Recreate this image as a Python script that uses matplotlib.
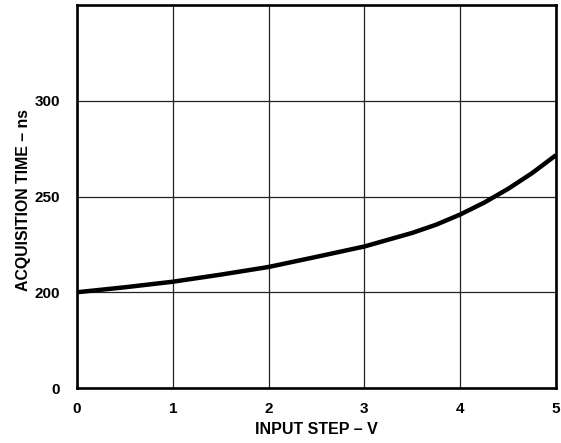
import matplotlib
matplotlib.use("Agg")
import matplotlib.pyplot as plt
import numpy as np

# Data
input_step = [0, 0.5, 1, 1.5, 2, 2.5, 3, 3.5, 3.75, 4, 4.25, 4.5, 4.75, 5]
acq_time = [200, 202.6, 205.5, 209.2, 213.2, 218.5, 223.9, 231.0, 235.3,
            240.6, 246.8, 254.0, 262.2, 271.6]
x_ticks = [0, 1, 2, 3, 4, 5]
y_ticks = [0, 200, 250, 300]

plt.rcParams['font.family'] = ['Liberation Sans', 'DejaVu Sans']
plt.rcParams['font.weight'] = 'bold'

# broken y scale: 0..200 occupies one grid row, then 50 per row
def fwd(v):
    v = np.asarray(v, dtype=float)
    return np.where(v >= 200, 1 + (v - 200) / 50.0, v / 200.0)

def inv(p):
    p = np.asarray(p, dtype=float)
    return np.where(p >= 1, 200 + (p - 1) * 50.0, p * 200.0)

fig = plt.figure(figsize=(5.61, 4.43), dpi=100)
ax = fig.add_axes([77/561, 1 - 388/443, (556 - 77)/561, (388 - 5)/443])
ax.set_yscale('function', functions=(fwd, inv))

ax.plot(input_step, acq_time, color='black', lw=3.2,
        solid_capstyle='butt', solid_joinstyle='round')

ax.set_xlim(0, 5)
ax.set_ylim(0, 350)
ax.set_xticks(x_ticks)
ax.set_yticks(y_ticks)
ax.set_xticklabels([str(t) for t in x_ticks], fontsize=11, fontweight='bold')
ax.set_yticklabels([str(t) for t in y_ticks], fontsize=11, fontweight='bold')
ax.minorticks_off()
ax.tick_params(axis='both', length=0)
ax.tick_params(axis='x', pad=10)
ax.tick_params(axis='y', pad=12)
ax.grid(True, color='#222222', lw=0.9)

for s in ax.spines.values():
    s.set_linewidth(1.9)
    s.set_color('black')

ax.set_xlabel('INPUT STEP – V', fontsize=11.5, fontweight='bold')
ax.xaxis.set_label_coords(0.5, -0.09)
ax.set_ylabel('ACQUISITION TIME – ns', fontsize=11.4, fontweight='bold')
ax.yaxis.set_label_coords(-0.095, 0.492)

fig.savefig('out.png', dpi=100)
